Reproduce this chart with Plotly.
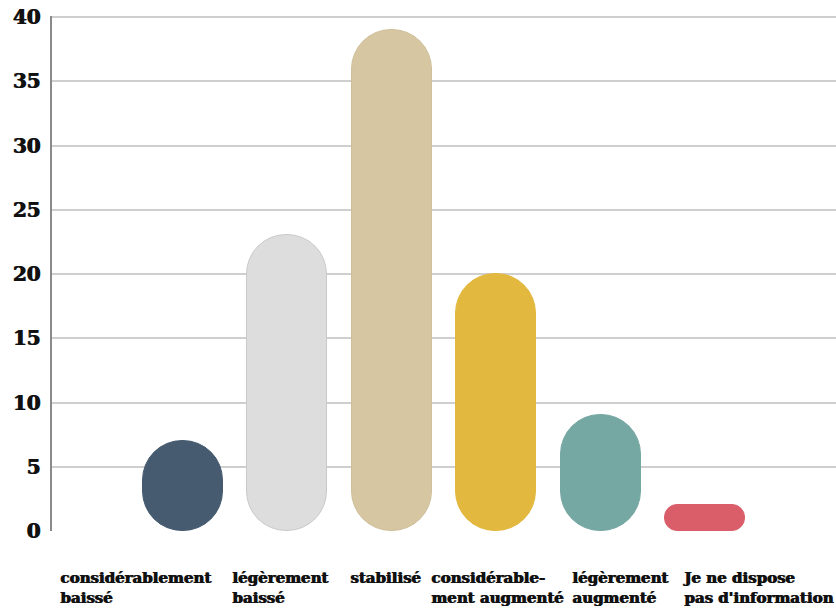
import plotly.graph_objects as go

# Réponses (nombre de répondants)
categories = [
    "considérablement<br>baissé",
    "légèrement<br>baissé",
    "stabilisé",
    "considérable-<br>ment augmenté",
    "légèrement<br>augmenté",
    "Je ne dispose<br>pas d'information",
]
values = [7, 23, 39, 20, 9, 2]
colors = ["#465b70", "#dddddd", "#d6c6a2", "#e3b83f", "#76a8a3", "#d95e69"]
edge_colors = ["#465b70", "#c9c9c9", "#cfbf9a", "#e3b83f", "#76a8a3", "#d95e69"]
y_ticks = [0, 5, 10, 15, 20, 25, 30, 35, 40]

# label placement tweak (left edge of each label, relative to its bar)
label_shift = [-1.19, -0.55, -0.42, -0.64, -0.29, -0.24]

FONT = "DejaVu Serif"
HEAVY = "1px 0 0 #111111"   # fake an extra-heavy weight
x = list(range(len(values)))

fig = go.Figure()

# setting an explicit base makes plotly round both ends -> pill shapes
fig.add_trace(go.Bar(
    x=x, y=values, base=[0] * len(values), width=0.765,
    marker=dict(color=colors, line=dict(width=1, color=edge_colors), cornerradius="50%"),
    hovertemplate="%{y}<extra></extra>", showlegend=False,
))

for i, label in enumerate(categories):
    fig.add_annotation(
        x=i + label_shift[i], xref="x", y=-0.07, yref="paper",
        text=label, showarrow=False, xanchor="left", yanchor="top", align="left",
        font=dict(family=FONT, size=15, color="#111111", weight="bold", shadow=HEAVY),
    )

fig.update_layout(
    width=836, height=608,
    margin=dict(l=52, r=0, t=16, b=77),
    paper_bgcolor="white", plot_bgcolor="white",
    bargap=0,
)
fig.update_xaxes(
    range=[-1.25, 6.25], showticklabels=False, showgrid=False,
    zeroline=False, showline=False, ticks="",
)
fig.update_yaxes(
    range=[0, 40.08], tickvals=y_ticks, showgrid=True, automargin=False,
    gridcolor="#cfcfcf", gridwidth=2, zeroline=False,
    showline=True, linecolor="#8a8a8a", linewidth=1.5,
    ticks="", ticklabelstandoff=6, ticklabeloverflow="allow",
    tickfont=dict(family=FONT, size=20, color="#111111", weight="bold", shadow=HEAVY),
)

# drop the default 8px page margin so the figure fills the window
fig.write_html(
    "out.html",
    config={"displayModeBar": False},
    post_script="document.body.style.margin = '0';",
)
